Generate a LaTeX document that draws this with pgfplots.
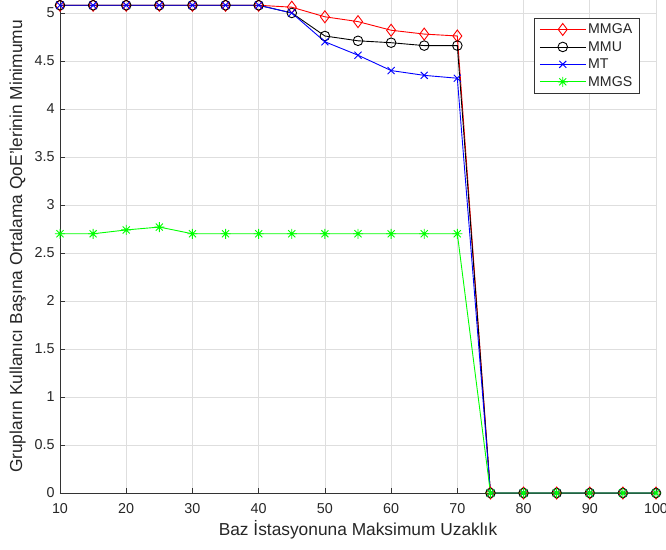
\documentclass[border=0pt]{standalone}
\usepackage{fontspec}
\setmainfont{Liberation Sans}
\usepackage{pgfplots}
\pgfplotsset{compat=1.18}

% eight-ray star marker (plus and cross combined)
\pgfdeclareplotmark{mstar}{%
  \pgfpathmoveto{\pgfqpoint{-\pgfplotmarksize}{0pt}}%
  \pgfpathlineto{\pgfqpoint{\pgfplotmarksize}{0pt}}%
  \pgfpathmoveto{\pgfqpoint{0pt}{-\pgfplotmarksize}}%
  \pgfpathlineto{\pgfqpoint{0pt}{\pgfplotmarksize}}%
  \pgfpathmoveto{\pgfqpoint{-0.707\pgfplotmarksize}{-0.707\pgfplotmarksize}}%
  \pgfpathlineto{\pgfqpoint{0.707\pgfplotmarksize}{0.707\pgfplotmarksize}}%
  \pgfpathmoveto{\pgfqpoint{-0.707\pgfplotmarksize}{0.707\pgfplotmarksize}}%
  \pgfpathlineto{\pgfqpoint{0.707\pgfplotmarksize}{-0.707\pgfplotmarksize}}%
  \pgfusepathqstroke}

\newcommand{\tickfont}{\fontsize{14.4}{17}\selectfont}
\newcommand{\labelfont}{\fontsize{17.4}{20}\selectfont}
\newcommand{\legfont}{\fontsize{14.2}{17}\selectfont}

\begin{document}
\begin{tikzpicture}
\begin{axis}[
  at={(0,0)}, anchor=south west,
  scale only axis, width=596bp, height=493bp,
  xmin=10, xmax=100, ymin=0, ymax=5.135,
  xtick={10,20,30,40,50,60,70,80,90,100},
  ytick={0,0.5,1,1.5,2,2.5,3,3.5,4,4.5,5},
  axis lines=left,
  axis line style={-, color=black!80, line width=0.7bp},
  tick align=inside, major tick length=5bp,
  tick style={black!80, line width=0.6bp},
  grid=major, grid style={black!13, line width=0.6bp},
  clip=false,
  /pgf/number format/assume math mode=true,
  tick label style={font=\tickfont, text=black!85},
  x tick label style={yshift=-7bp},
  y tick label style={xshift=-2bp},
  xlabel={Baz İstasyonuna Maksimum Uzaklık},
  ylabel={Grupların Kullanıcı Başına Ortalama QoE'lerinin Minimumu},
  label style={font=\labelfont, text=black!85},
  x label style={at={(axis description cs:0.5,-0.075)}, anchor=center},
  y label style={at={(axis description cs:-0.071,0.5)}, anchor=center},
  legend style={at={(1,1)}, anchor=north east, xshift=-16bp, yshift=-18bp,
    draw=black!80, line width=0.6bp, font=\legfont, text=black!85,
    inner xsep=5.5bp, inner ysep=3.5bp, row sep=2.2bp},
  legend cell align=left,
  legend image code/.code={%
    \draw[mark repeat=2, mark phase=2] plot coordinates {(0bp,0bp) (23bp,0bp) (46bp,0bp)};},
  every axis plot/.append style={line width=0.9bp},
]
\addplot[red, mark=diamond, mark size=6bp] coordinates {
  (10,5.08) (15,5.08) (20,5.08) (25,5.08) (30,5.08) (35,5.08) (40,5.08)
  (45,5.06) (50,4.96) (55,4.91) (60,4.82) (65,4.78) (70,4.76)
  (75,0) (80,0) (85,0) (90,0) (95,0) (100,0)};
\addlegendentry{MMGA}
\addplot[black, mark=o, mark size=4.8bp] coordinates {
  (10,5.08) (15,5.08) (20,5.08) (25,5.08) (30,5.08) (35,5.08) (40,5.08)
  (45,5.00) (50,4.76) (55,4.71) (60,4.69) (65,4.66) (70,4.66)
  (75,0) (80,0) (85,0) (90,0) (95,0) (100,0)};
\addlegendentry{MMU}
\addplot[blue, mark=x, mark size=5bp] coordinates {
  (10,5.08) (15,5.08) (20,5.08) (25,5.08) (30,5.08) (35,5.08) (40,5.08)
  (45,5.00) (50,4.70) (55,4.56) (60,4.40) (65,4.35) (70,4.32)
  (75,0) (80,0) (85,0) (90,0) (95,0) (100,0)};
\addlegendentry{MT}
\addplot[green, mark=mstar, mark size=5bp] coordinates {
  (10,2.70) (15,2.70) (20,2.74) (25,2.77) (30,2.70) (35,2.70) (40,2.70)
  (45,2.70) (50,2.70) (55,2.70) (60,2.70) (65,2.70) (70,2.70)
  (75,0) (80,0) (85,0) (90,0) (95,0) (100,0)};
\addlegendentry{MMGS}
\end{axis}
\pgfresetboundingbox
\path[use as bounding box] (-60bp,-57bp) rectangle (606bp,493bp);
\end{tikzpicture}
\end{document}
